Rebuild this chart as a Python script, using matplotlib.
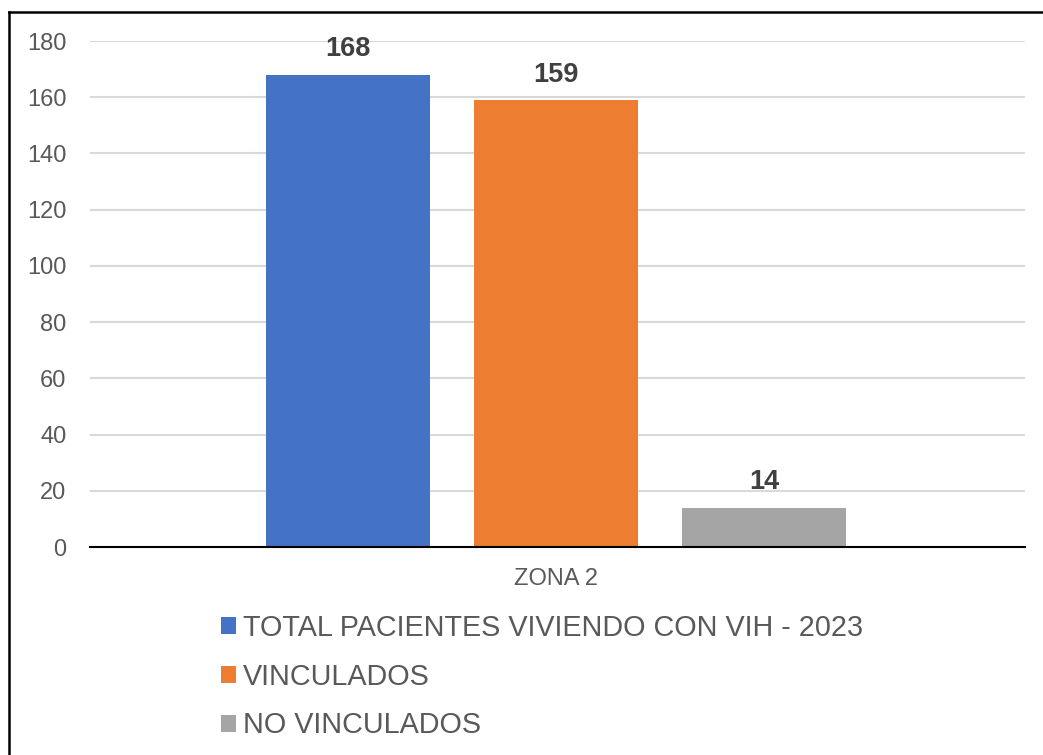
import matplotlib.pyplot as plt
from matplotlib.lines import Line2D

plt.rcParams['font.family'] = ['Liberation Sans', 'DejaVu Sans']

series = ['TOTAL PACIENTES VIVIENDO CON VIH - 2023', 'VINCULADOS', 'NO VINCULADOS']
values = [168, 159, 14]
colors = ['#4472C4', '#ED7D31', '#A5A5A5']
category = 'ZONA 2'
yticks = [0, 20, 40, 60, 80, 100, 120, 140, 160, 180]

fig = plt.figure(figsize=(10.43, 7.55), dpi=100)
ax = fig.add_axes([90 / 1043, 1 - 547 / 755, 935 / 1043, 506 / 755])

offsets = [-1, 0, 1]
for off, v, c, name in zip(offsets, values, colors, series):
    b = ax.bar(off, v, width=0.788, color=c, label=name, zorder=3)
    ax.bar_label(b, padding=9, fontsize=19.5, fontweight='bold', color='#404040')

ax.set_xlim(-2.24, 2.255)
ax.set_ylim(0, 180)
ax.set_yticks(yticks)
ax.set_xticks([0])
ax.set_xticklabels([category])
ax.tick_params(axis='y', length=0, pad=17, labelsize=17, labelcolor='#595959')
ax.tick_params(axis='x', length=0, pad=15, labelsize=17, labelcolor='#595959')
ax.grid(axis='y', color='#D9D9D9', linewidth=1.5, zorder=0)
for s in ['top', 'right', 'left']:
    ax.spines[s].set_visible(False)
ax.spines['bottom'].set_color('black')
ax.spines['bottom'].set_linewidth(1.5)
ax.spines['bottom'].set_zorder(4)

leg = fig.legend(loc='upper left', bbox_to_anchor=(221 / 1043, 1 - 614 / 755),
                 frameon=False, fontsize=20.7, handlelength=0.52, handleheight=0.52,
                 handletextpad=0.25, labelspacing=0.72, borderaxespad=0, borderpad=0)
for t in leg.get_texts():
    t.set_color('#595959')

# outer frame: only the left and top edges fall inside the picture
fig.add_artist(Line2D([9 / 1043, 9 / 1043], [0, 1 - 12 / 755], transform=fig.transFigure,
                      color='black', linewidth=1.8))
fig.add_artist(Line2D([9 / 1043, 1], [1 - 12 / 755, 1 - 12 / 755], transform=fig.transFigure,
                      color='black', linewidth=1.8))

fig.savefig('out.png', dpi=100)
